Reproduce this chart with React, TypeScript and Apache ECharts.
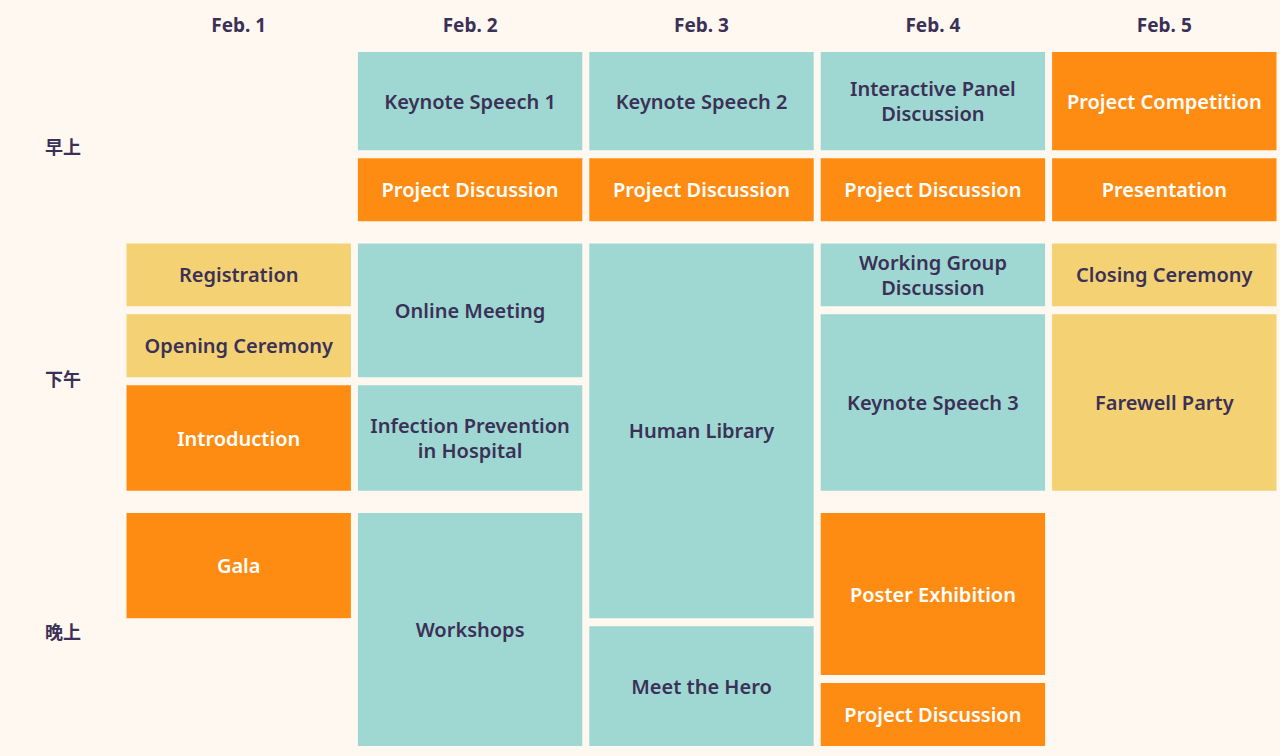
import React, { useEffect, useRef } from 'react';
import * as echarts from 'echarts';

const days = ['Feb. 1', 'Feb. 2', 'Feb. 3', 'Feb. 4', 'Feb. 5'];
const periodLabels = ['早上', '下午', '晚上'];
const periodPositions = [13.8, 46.5, 82.2];

// [dayIndex, start, end, title, kind]
const events: [number, number, number, string, string][] = [
  [0, 27, 37, 'Registration', 'yellow'],
  [0, 37, 47, 'Opening Ceremony', 'yellow'],
  [0, 47, 63, 'Introduction', 'orange'],
  [0, 65, 81, 'Gala', 'orange'],
  [1, 0, 15, 'Keynote Speech 1', 'teal'],
  [1, 15, 25, 'Project Discussion', 'orange'],
  [1, 27, 47, 'Online Meeting', 'teal'],
  [1, 47, 63, 'Infection Prevention\nin Hospital', 'teal'],
  [1, 65, 99, 'Workshops', 'teal'],
  [2, 0, 15, 'Keynote Speech 2', 'teal'],
  [2, 15, 25, 'Project Discussion', 'orange'],
  [2, 27, 81, 'Human Library', 'teal'],
  [2, 81, 99, 'Meet the Hero', 'teal'],
  [3, 0, 15, 'Interactive Panel\nDiscussion', 'teal'],
  [3, 15, 25, 'Project Discussion', 'orange'],
  [3, 27, 37, 'Working Group\nDiscussion', 'teal'],
  [3, 37, 63, 'Keynote Speech 3', 'teal'],
  [3, 65, 89, 'Poster Exhibition', 'orange'],
  [3, 89, 99, 'Project Discussion', 'orange'],
  [4, 0, 15, 'Project Competition', 'orange'],
  [4, 15, 25, 'Presentation', 'orange'],
  [4, 27, 37, 'Closing Ceremony', 'yellow'],
  [4, 37, 63, 'Farewell Party', 'yellow'],
];

const fills: Record<string, string> = { teal: '#9fd8d3', orange: '#ff8c12', yellow: '#f4d173' };
const DARK = '#3b3157';

export default function App() {
  const ref = useRef<HTMLDivElement>(null);

  useEffect(() => {
    if (!ref.current) return;
    const chart = echarts.init(ref.current, undefined, { renderer: 'svg' });
    chart.setOption({
      animation: false,
      backgroundColor: '#fff8f0',
      grid: { left: 123, right: 0, top: 48, bottom: 6 },
      xAxis: {
        type: 'category',
        position: 'top',
        data: days,
        axisLine: { show: false },
        axisTick: { show: false },
        axisLabel: { color: DARK, fontSize: 19, fontWeight: 'bold', fontFamily: 'Noto Sans', margin: 14 },
      },
      yAxis: {
        type: 'value',
        inverse: true,
        min: 0,
        max: 99,
        splitLine: { show: false },
        axisLine: { show: false },
        axisTick: { show: false },
        axisLabel: {
          customValues: periodPositions,
          formatter: (v: number) => periodLabels[periodPositions.indexOf(v)] ?? '',
          color: DARK,
          fontSize: 18,
          fontWeight: 'bold',
          fontFamily: 'Noto Sans CJK SC',
          margin: 42,
        },
      },
      series: [
        {
          type: 'custom',
          data: events.map((e) => [e[0], e[1], e[2]]),
          renderItem: (params: any, api: any) => {
            const ev = events[params.dataIndex];
            const top = api.coord([ev[0], ev[1]]);
            const bottom = api.coord([ev[0], ev[2]]);
            const bw = api.size([1, 0])[0];
            const x = top[0] - bw / 2 + 3.5;
            const y = top[1] + 4;
            const w = bw - 7;
            const h = bottom[1] - top[1] - 8;
            return {
              type: 'group',
              children: [
                { type: 'rect', shape: { x, y, width: w, height: h }, style: { fill: fills[ev[4]] } },
                {
                  type: 'text',
                  x: x + w / 2,
                  y: y + h / 2,
                  style: {
                    text: ev[3],
                    align: 'center',
                    verticalAlign: 'middle',
                    fill: ev[4] === 'orange' ? '#ffffff' : DARK,
                    fontSize: 20,
                    fontWeight: 600,
                    fontFamily: 'Noto Sans',
                    lineHeight: 25,
                  },
                },
              ],
            };
          },
        },
      ],
    });
    return () => chart.dispose();
  }, []);

  return <div ref={ref} style={{ position: 'absolute', left: 0, top: 0, width: 1280, height: 756 }} />;
}
